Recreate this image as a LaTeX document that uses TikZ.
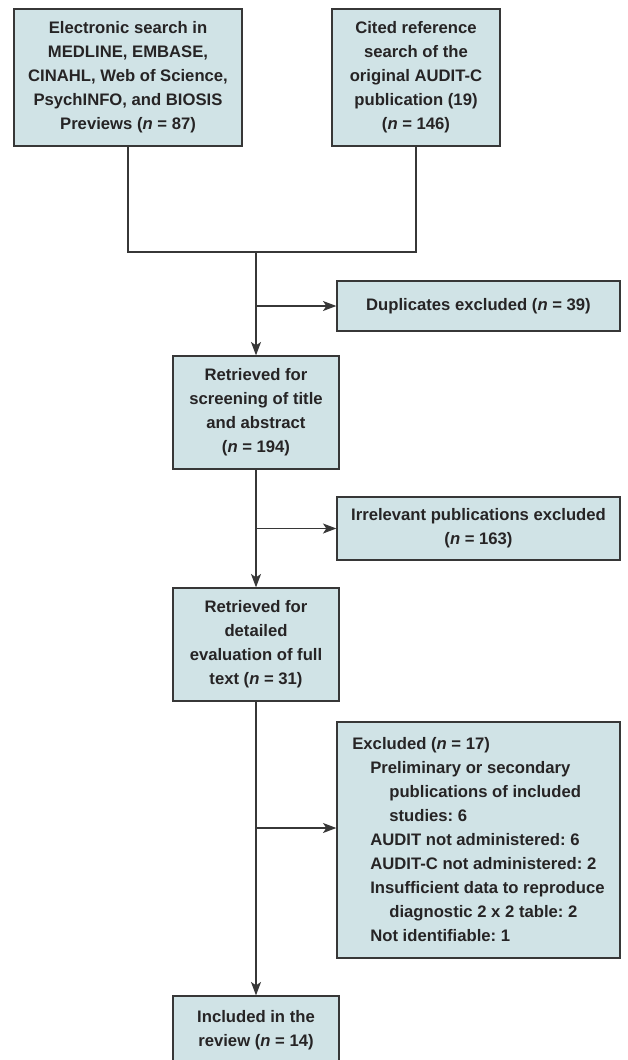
\documentclass[tikz,border=0pt]{standalone}
\usepackage{fontspec}
\setmainfont{Liberation Sans}
\frenchspacing
\usetikzlibrary{arrows.meta}
\definecolor{boxfill}{RGB}{208,227,230}
\definecolor{boxline}{RGB}{55,55,55}
\definecolor{boxtext}{RGB}{38,36,37}
\tikzset{
  flowbox/.style={draw=boxline,line width=1pt,fill=boxfill,text=boxtext,
    align=center,inner sep=2pt,font=\bfseries\fontsize{12.5}{18}\selectfont},
  link/.style={draw=boxline,line width=0.9pt}
}
\newcommand{\nn}{\textit{n}}
\begin{document}
\begin{tikzpicture}[x=0.75pt,y=-0.75pt,>={Stealth[length=10pt,width=7.5pt,inset=2.5pt]}]
  \useasboundingbox (0,0) rectangle (628,1060);
  % sources
  \node[flowbox,minimum width=171pt,minimum height=102.75pt] (search) at (128,77.5)
    {Electronic search in\\MEDLINE, EMBASE,\\CINAHL, Web of Science,\\PsychINFO, and BIOSIS\\Previews (\nn{} = 87)};
  \node[flowbox,minimum width=126pt,minimum height=102.75pt] (cited) at (416,77.5)
    {Cited reference\\search of the\\original AUDIT-C\\publication (19)\\(\nn{} = 146)};
  % main column
  \node[flowbox,minimum width=124.5pt,minimum height=84.75pt] (screen) at (256,412.5)
    {Retrieved for\\screening of title\\and abstract\\(\nn{} = 194)};
  \node[flowbox,minimum width=124.5pt,minimum height=84.75pt] (fulltext) at (256,644.5)
    {Retrieved for\\detailed\\evaluation of full\\text (\nn{} = 31)};
  \node[flowbox,minimum width=124.5pt,minimum height=51pt] (incl) at (256,1030)
    {Included in the\\review (\nn{} = 14)};
  % exclusions
  \node[flowbox,minimum width=212.25pt,minimum height=37.5pt] (dupl) at (478.5,306)
    {Duplicates excluded (\nn{} = 39)};
  \node[flowbox,minimum width=212.25pt,minimum height=47.25pt] (irrel) at (478.5,528.5)
    {Irrelevant publications excluded\\(\nn{} = 163)};
  \node[flowbox,align=left,minimum width=212.25pt,minimum height=177pt] (excl) at (478.5,840)
    {Excluded (\nn{} = 17)\\
     \hspace*{13.5pt}Preliminary or secondary\\
     \hspace*{27.75pt}publications of included\\
     \hspace*{27.75pt}studies: 6\\
     \hspace*{13.5pt}AUDIT not administered: 6\\
     \hspace*{13.5pt}AUDIT-C not administered: 2\\
     \hspace*{13.5pt}Insufficient data to reproduce\\
     \hspace*{27.75pt}diagnostic 2 x 2 table: 2\\
     \hspace*{13.5pt}Not identifiable: 1};
  % connectors
  \coordinate (merge) at (256,252);
  \coordinate (split) at (256,828);
  \draw[link] (search.south) |- (merge) -| (cited.south);
  \draw[link,->] (merge) -- (screen.north);
  \draw[link,->] (merge |- dupl.west) -- (dupl.west);
  \draw[link,->] (screen.south) -- (fulltext.north);
  \draw[link,->] (screen.south |- irrel.west) -- (irrel.west);
  \draw[link,->] (fulltext.south) -- (incl.north);
  \draw[link,->] (split) -- (split -| excl.west);
\end{tikzpicture}
\end{document}
